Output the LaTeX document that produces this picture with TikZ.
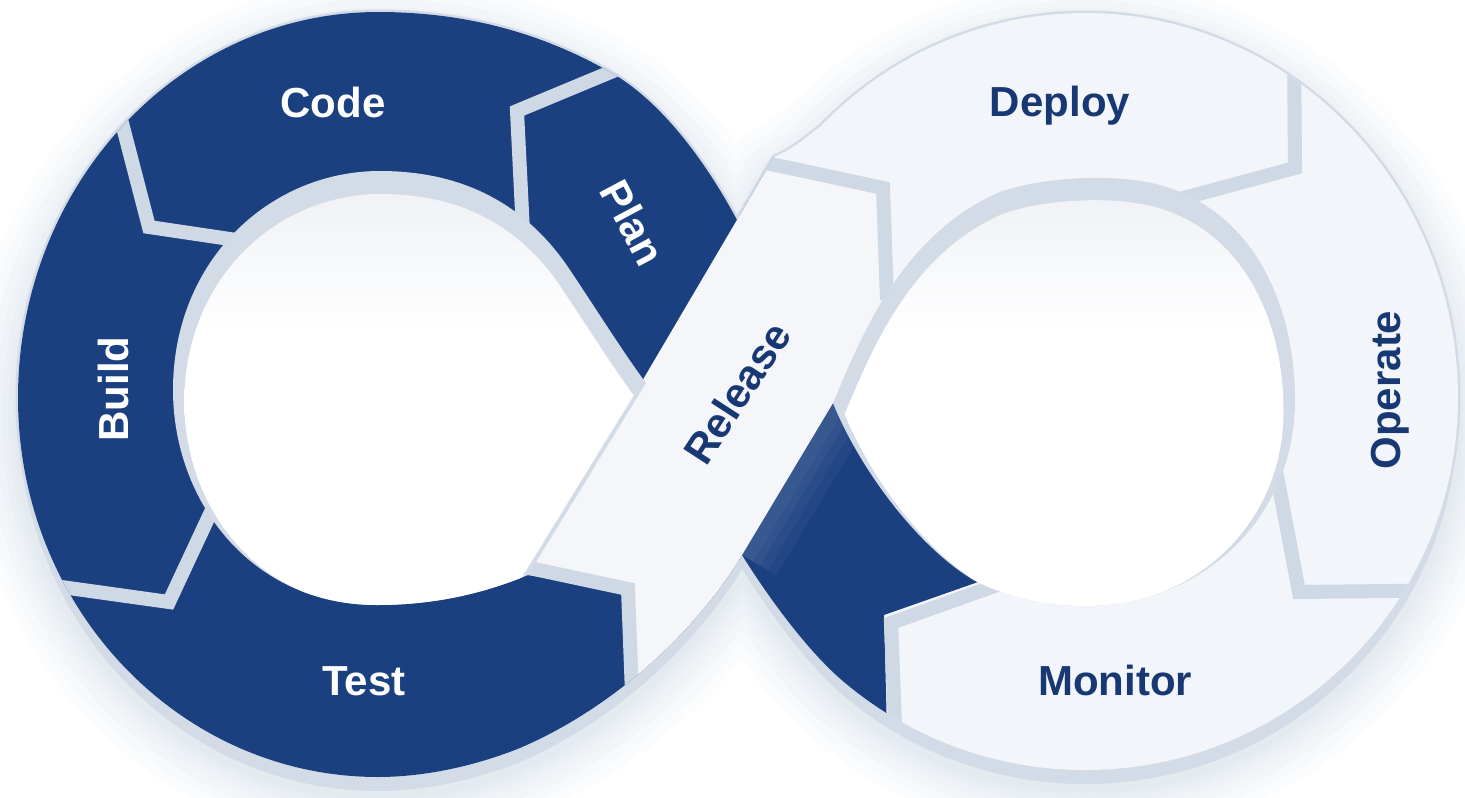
\documentclass[tikz,border=0pt]{standalone}
\usepackage{fontspec}
\setmainfont{Liberation Sans}
\definecolor{dkblue}{RGB}{27,64,128}
\definecolor{txtblue}{RGB}{24,56,116}
\definecolor{surf}{RGB}{242,245,249}
\definecolor{relc}{RGB}{244,246,250}
\definecolor{gapc}{RGB}{207,216,229}
\definecolor{rimc}{RGB}{211,219,231}
\definecolor{holetop}{RGB}{208,216,228}
\definecolor{shadowc}{RGB}{110,130,170}
\pgfdeclareverticalshading{holeshade}{100bp}{color(0bp)=(white); color(58bp)=(white); color(86bp)=(holetop!55!white); color(100bp)=(holetop)}
\begin{document}
\begin{tikzpicture}[x=1pt,y=-1pt,
  figshape/.style={insert path={(742,555) .. controls (700,625) and (620,705) .. (520,748) .. controls (470,768) and (420,777) .. (378,777) arc[start angle=90, end angle=180, x radius=360, y radius=379] arc[start angle=180, end angle=270, x radius=360, y radius=386] .. controls (470,12) and (545,35) .. (610,72) .. controls (660,100) and (705,160) .. (737,220) -- (774,157) .. controls (795,148) and (805,138) .. (821.2,125.8) arc[start angle=225, end angle=360, x radius=373, y radius=385] arc[start angle=0, end angle=130, x radius=373, y radius=372] .. controls (810,654) and (770,600) .. (742,555) -- cycle}},
  lhole/.style={insert path={(528,575) .. controls (480,595) and (430,605) .. (377,605) .. controls (250,605) and (173,500) .. (173,390) .. controls (173,260) and (270,171) .. (380,171) .. controls (470,171) and (530,210) .. (570,270) .. controls (600,315) and (625,355) .. (646,383) -- cycle}},
  rhole/.style={insert path={(833,403) .. controls (860,340) and (900,235) .. (1000,192) .. controls (1040,178) and (1110,172) .. (1160,185) .. controls (1250,210) and (1295,300) .. (1295,400) .. controls (1295,520) and (1200,606) .. (1085,606) .. controls (1040,606) and (1005,595) .. (977,582) .. controls (920,550) and (860,470) .. (833,403) -- cycle}},
  lbl/.style={font=\fontsize{42}{42}\selectfont\bfseries, inner sep=0pt, text height=30pt, text depth=0pt},
  lblw/.style={lbl, text=white},
  lbld/.style={lbl, text=txtblue},
  gapline/.style={draw=gapc, line width=14pt, line join=miter, line cap=butt},
  softshadow/.style={shadowc, opacity=0.022, line join=round, shift={(0,18)}, figshape}
]
\useasboundingbox (0,0) rectangle (1465,798);
\fill[white] (0,0) rectangle (1465,798);

% soft shadow
\draw[softshadow, line width=100pt];
\draw[softshadow, line width=80pt];
\draw[softshadow, line width=62pt];
\draw[softshadow, line width=46pt];
\draw[softshadow, line width=32pt];
\draw[softshadow, line width=20pt];
\draw[softshadow, line width=10pt];

% extrusion rim
\fill[rimc, shift={(0,14)}, figshape];
\draw[rimc, line width=5pt, line join=round, figshape];

% top surface
\begin{scope}
  \path[clip, figshape];
  \fill[surf] (0,0) rectangle (1465,798);
  % dark band (left loop and its continuation under Release)
  \fill[dkblue] (-20,-20) -- (878,-20) -- (774,157) -- (833,403) -- (978,582) -- (884,615) -- (889,810) -- (-20,810) -- cycle;
  % light sheen beside Release
  \draw[white, opacity=0.035, line width=80pt] (742,555) -- (833,403);
  \draw[white, opacity=0.035, line width=60pt] (742,555) -- (833,403);
  \draw[white, opacity=0.035, line width=42pt] (742,555) -- (833,403);
  \draw[white, opacity=0.035, line width=26pt] (742,555) -- (833,403);
  % Release band
  \fill[relc] (528,575) -- (634,590) -- (640,730) -- (650,730) -- (742,555) -- (833,403) -- (893,287) -- (888,190) -- (785,165) -- (774,157) -- cycle;
  % gaps between segments
  \draw[gapline] (116,100) -- (149,227) -- (250,242);
  \draw[gapline] (40,584) -- (169,602) -- (225,482);
  \draw[gapline] (520,566) -- (628,589) -- (633,720);
  \draw[gapline] (630,64) -- (517,111) -- (523,232);
  \draw[gapline] (760,162) -- (790,168) -- (883,188) -- (887,300);
  \draw[gapline] (1294,40) -- (1295,168) -- (1165,203);
  \draw[gapline] (1274,460) -- (1299,592) -- (1480,590);
  \draw[gapline] (1000,584) -- (891,623) -- (898,800);
\end{scope}

% holes
\begin{scope}
  \path[clip, lhole];
  \fill[rimc] (0,0) rectangle (1465,798);
  \begin{scope}[shift={(400,630)}, scale=0.95, shift={(-400,-630)}]
    \shade[shading=holeshade, lhole];
  \end{scope}
\end{scope}
\begin{scope}
  \path[clip, rhole];
  \fill[rimc] (0,0) rectangle (1465,798);
  \begin{scope}[shift={(1065,625)}, scale=0.95, shift={(-1065,-625)}]
    \shade[shading=holeshade, rhole];
  \end{scope}
\end{scope}

% labels
\node[lblw] (code) at (333,102) {Code};
\node[lblw, rotate=-62] (plan) at (633,223) {Plan};
\node[lblw, rotate=90] (build) at (113,389) {Build};
\node[lblw] (test) at (364,680) {Test};
\node[lbld, rotate=57] (release) at (737,393) {Release};
\node[lbld] (deploy) at (1060,101) {Deploy};
\node[lbld, rotate=90] (operate) at (1385,390) {Operate};
\node[lbld] (monitor) at (1115,680) {Monitor};
\end{tikzpicture}
\end{document}
